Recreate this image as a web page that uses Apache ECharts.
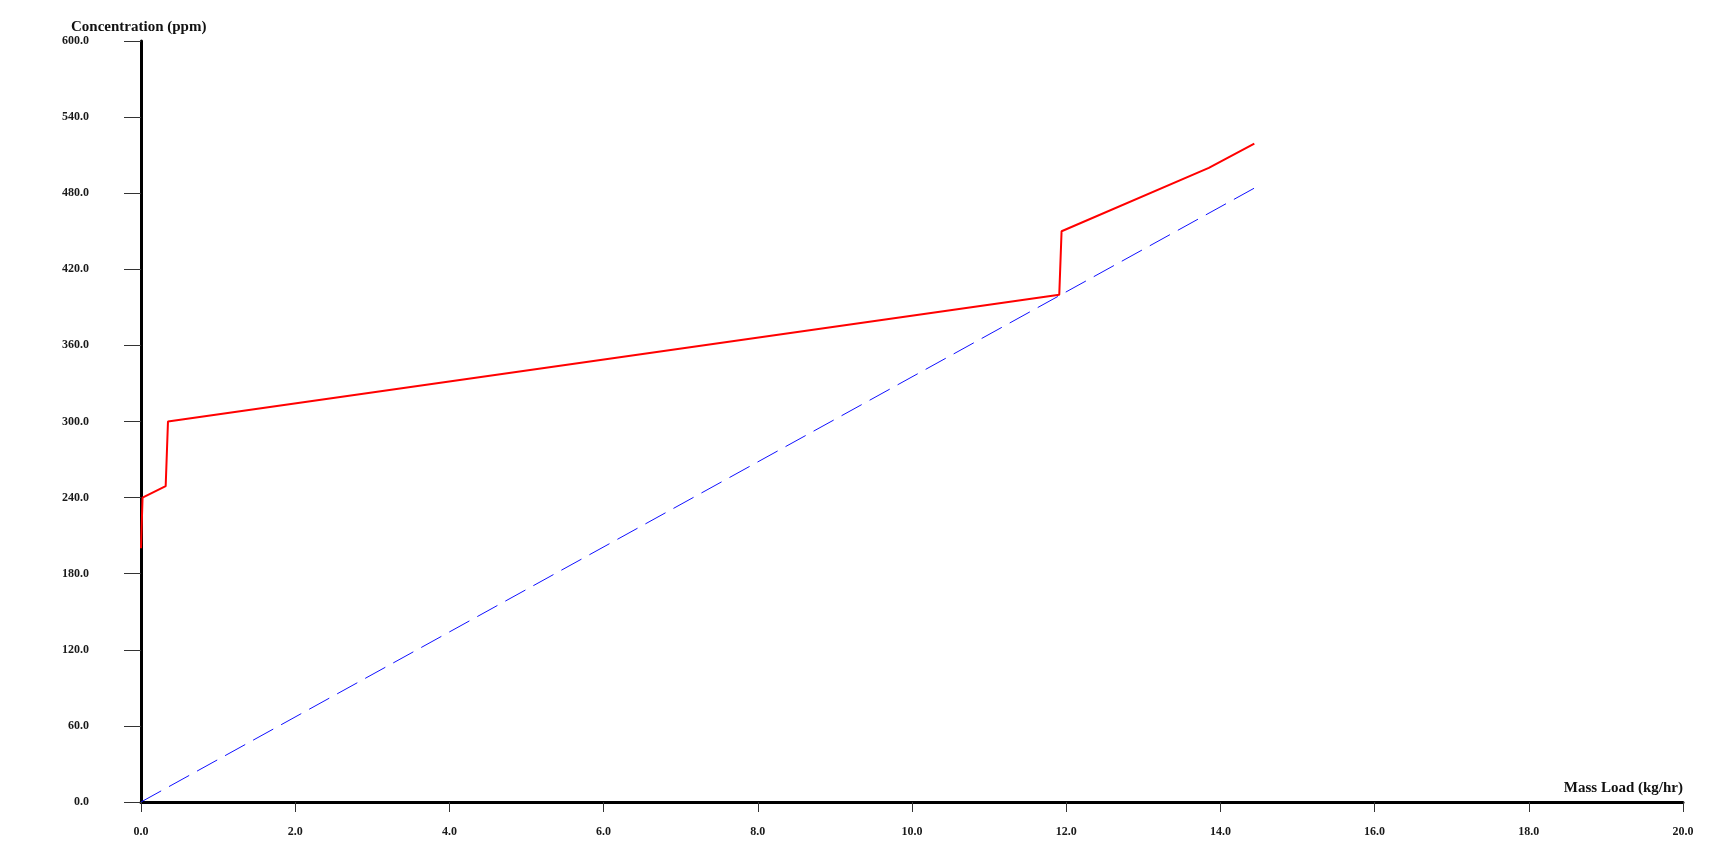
<!DOCTYPE html>
<html>
<head>
<meta charset="utf-8">
<script src="https://cdn.jsdelivr.net/npm/echarts@6/dist/echarts.min.js"></script>
<style>html,body{margin:0;padding:0;background:#fff}#c{width:1729px;height:856px}</style>
</head>
<body>
<div id="c"></div>
<script>
// Data
var xTicks = {min: 0, max: 20, interval: 2};
var yTicks = {min: 0, max: 600, interval: 60};
var compositeX = [0, 0.02, 0.32, 0.35, 11.91, 11.94, 13.85, 14.44];
var compositeY = [200, 240, 249, 300, 400, 450, 500, 519];
var targetX = [0, 14.44];
var targetY = [0, 484];
var xName = 'Mass Load (kg/hr)';
var yName = 'Concentration (ppm)';

var font = 'Liberation Serif';
function pairs(xs, ys){ return xs.map(function(x,i){ return [x, ys[i]]; }); }

var chart = echarts.init(document.getElementById('c'));
chart.setOption({
  animation: false,
  backgroundColor: '#fff',
  grid: {left: 141, right: 46, top: 41, bottom: 54, containLabel: false},
  xAxis: {
    type: 'value', min: xTicks.min, max: xTicks.max, interval: xTicks.interval,
    axisLine: {show: true, onZero: false, lineStyle: {color: '#000', width: 3}},
    axisTick: {show: true, length: 10, inside: false, lineStyle: {color: '#333', width: 1}},
    splitLine: {show: false},
    axisLabel: {margin: 24, color: '#1a1a1a', fontFamily: font, fontWeight: 'bold', fontSize: 12,
      formatter: function(v){ return v.toFixed(1); }}
  },
  yAxis: {
    type: 'value', min: yTicks.min, max: yTicks.max, interval: yTicks.interval,
    axisLine: {show: true, onZero: false, lineStyle: {color: '#000', width: 3}},
    axisTick: {show: true, length: 17, inside: false, lineStyle: {color: '#333', width: 1}},
    splitLine: {show: false},
    axisLabel: {margin: 52, color: '#1a1a1a', fontFamily: font, fontWeight: 'bold', fontSize: 12,
      formatter: function(v){ return v.toFixed(1); }}
  },
  graphic: [
    {type: 'text', left: 71, top: 20, z: 10, style: {text: yName, fill: '#111', font: 'bold 15px "Liberation Serif"'}},
    {type: 'text', right: 46, top: 781, style: {text: xName, fill: '#111', font: 'bold 15px "Liberation Serif"'}}
  ],
  series: [
    {type: 'line', data: pairs(targetX, targetY), symbol: 'none', z: 2,
      lineStyle: {color: '#1010ff', width: 1, type: [23, 9]}},
    {type: 'line', data: pairs(compositeX, compositeY), symbol: 'none', z: 3,
      lineStyle: {color: '#ff0000', width: 2}}
  ]
});
</script>
</body>
</html>
